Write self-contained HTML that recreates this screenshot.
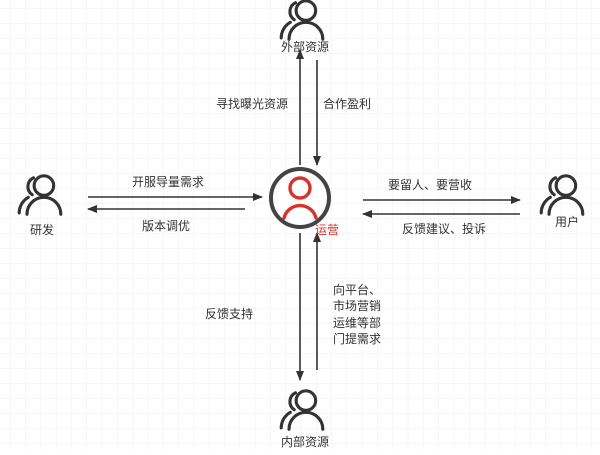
<!DOCTYPE html>
<html><head><meta charset="utf-8"><style>
body{margin:0;width:600px;height:450px;overflow:hidden;background:#fff}
text{font-family:"Liberation Sans","Noto Sans CJK SC",sans-serif;font-size:12px;fill:#333}
</style></head><body>
<svg width="600" height="450" xmlns="http://www.w3.org/2000/svg">
<defs>
<pattern id="g" x="10" y="8" width="15.3" height="15" patternUnits="userSpaceOnUse">
<path d="M0 0V15M0 0H15.3" stroke="#ececec" stroke-width="1" fill="none"/>
</pattern>
<marker id="a" markerWidth="10" markerHeight="8" refX="9" refY="4" orient="auto" markerUnits="userSpaceOnUse">
<path d="M0 0L10 4L0 8z" fill="#333"/></marker>
<g id="p" fill="none" stroke="#333" stroke-width="2.4" stroke-linecap="round" transform="scale(1.3)">
<circle cx="3" cy="-8" r="7.5"/>
<path d="M-10 14A13 13 0 0 1 16 14"/>
<path d="M-5 -14A7.5 7.5 0 0 0 -6 -1M-9 1A14 14 0 0 0 -16 13"/>
</g>
</defs>
<rect width="600" height="450" fill="url(#g)"/>
<g stroke="#333" stroke-width="1.6" fill="none">
<path d="M300 165V50" marker-end="url(#a)"/>
<path d="M317 60V165" marker-end="url(#a)"/>
<path d="M300 233V380" marker-end="url(#a)"/>
<path d="M317 370V233" marker-end="url(#a)"/>
<path d="M88 197H262" marker-end="url(#a)"/>
<path d="M245 209H88" marker-end="url(#a)"/>
<path d="M363 200H520" marker-end="url(#a)"/>
<path d="M520 214H363" marker-end="url(#a)"/>
</g>
<circle cx="300" cy="198" r="29" fill="#fff" stroke="#444" stroke-width="4"/>
<g fill="none" stroke="#d9322b" stroke-width="3.4" stroke-linecap="round">
<circle cx="300" cy="188" r="10"/>
<path d="M284 218A16.5 16.5 0 0 1 316 218"/>
</g>
<use href="#p" x="302" y="21"/>
<use href="#p" x="40" y="196"/>
<use href="#p" x="562" y="196"/>
<use href="#p" x="302" y="411"/>
<text x="305" y="51" text-anchor="middle">外部资源</text>
<text x="42" y="234" text-anchor="middle">研发</text>
<text x="567" y="226" text-anchor="middle">用户</text>
<text x="305" y="446" text-anchor="middle">内部资源</text>
<text x="315" y="234" style="fill:#d9322b">运营</text>
<text x="216" y="108">寻找曝光资源</text>
<text x="323" y="108">合作盈利</text>
<text x="132" y="186">开服导量需求</text>
<text x="142" y="230">版本调优</text>
<text x="388" y="189">要留人、要营收</text>
<text x="402" y="233">反馈建议、投诉</text>
<text x="205" y="318">反馈支持</text>
<text x="333" y="294">向平台、</text>
<text x="333" y="310">市场营销</text>
<text x="333" y="327">运维等部</text>
<text x="333" y="343">门提需求</text>
</svg>
</body></html>
